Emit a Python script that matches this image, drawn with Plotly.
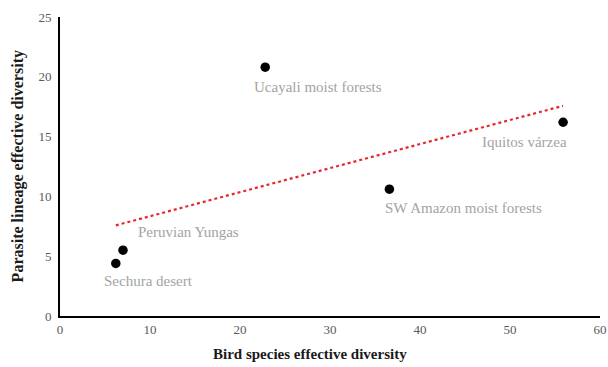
import numpy as np
import plotly.graph_objects as go

# Ecoregion effective diversity values
regions = ["Sechura desert", "Peruvian Yungas", "Ucayali moist forests",
           "SW Amazon moist forests", "Iquitos várzea"]
bird_diversity = [6.2, 7.0, 22.8, 36.6, 55.9]
parasite_diversity = [4.4, 5.5, 20.8, 10.6, 16.2]

x_ticks = [0, 10, 20, 30, 40, 50, 60]
y_ticks = [0, 5, 10, 15, 20, 25]

# Label placement (pixel offsets from each point)
label_offsets = {
    "Sechura desert": (-14, -18, "left"),
    "Peruvian Yungas": (13, 18, "left"),
    "Ucayali moist forests": (-13, -20, "left"),
    "SW Amazon moist forests": (-6, -19, "left"),
    "Iquitos várzea": (6, -20, "right"),
}

# Linear least-squares trend line across the observed range
slope, intercept = np.polyfit(bird_diversity, parasite_diversity, 1)
trend_x = np.array([min(bird_diversity), max(bird_diversity)])
trend_y = slope * trend_x + intercept

serif = "Liberation Serif, Times New Roman, serif"

fig = go.Figure()
fig.add_trace(go.Scatter(
    x=trend_x, y=trend_y, mode="lines",
    line=dict(color="#e8262f", width=2.2, dash="dot"),
    hoverinfo="skip", showlegend=False,
))
fig.add_trace(go.Scatter(
    x=bird_diversity, y=parasite_diversity, mode="markers",
    marker=dict(color="black", size=9.5),
    text=regions, showlegend=False,
))

for name, bx, py in zip(regions, bird_diversity, parasite_diversity):
    dx, dy, anchor = label_offsets[name]
    fig.add_annotation(
        x=bx, y=py, text=name, showarrow=False,
        xanchor=anchor, yanchor="middle", xshift=dx, yshift=dy,
        font=dict(family=serif, size=15, color="#a3a3a3"),
    )

# Axis titles
fig.add_annotation(
    xref="paper", yref="paper", x=0.463, y=-0.127,
    xanchor="center", yanchor="middle", showarrow=False,
    text="<b>Bird species effective diversity</b>",
    font=dict(family=serif, size=15, color="#1a1a1a"),
)
fig.add_annotation(
    xref="paper", yref="paper", x=-0.078, y=0.5,
    xanchor="center", yanchor="middle", showarrow=False, textangle=-90,
    text="<b>Parasite lineage effective diversity</b>",
    font=dict(family=serif, size=16, color="#1a1a1a"),
)

fig.update_layout(
    width=608, height=367,
    margin=dict(l=60, r=8, t=17, b=51),
    paper_bgcolor="white", plot_bgcolor="white",
    font=dict(family=serif, color="#595959", size=13),
)
fig.update_xaxes(
    range=[0, 60], tickvals=x_ticks, showgrid=False, zeroline=False,
    showline=True, linecolor="black", linewidth=2, ticks="",
    tickfont=dict(family=serif, size=13, color="#595959"),
    automargin=False,
)
fig.update_yaxes(
    range=[0, 25], tickvals=y_ticks, showgrid=False, zeroline=False,
    showline=True, linecolor="black", linewidth=2, ticks="",
    ticklabelstandoff=4,
    tickfont=dict(family=serif, size=13, color="#595959"),
    automargin=False,
)

fig.write_html("out.html")
